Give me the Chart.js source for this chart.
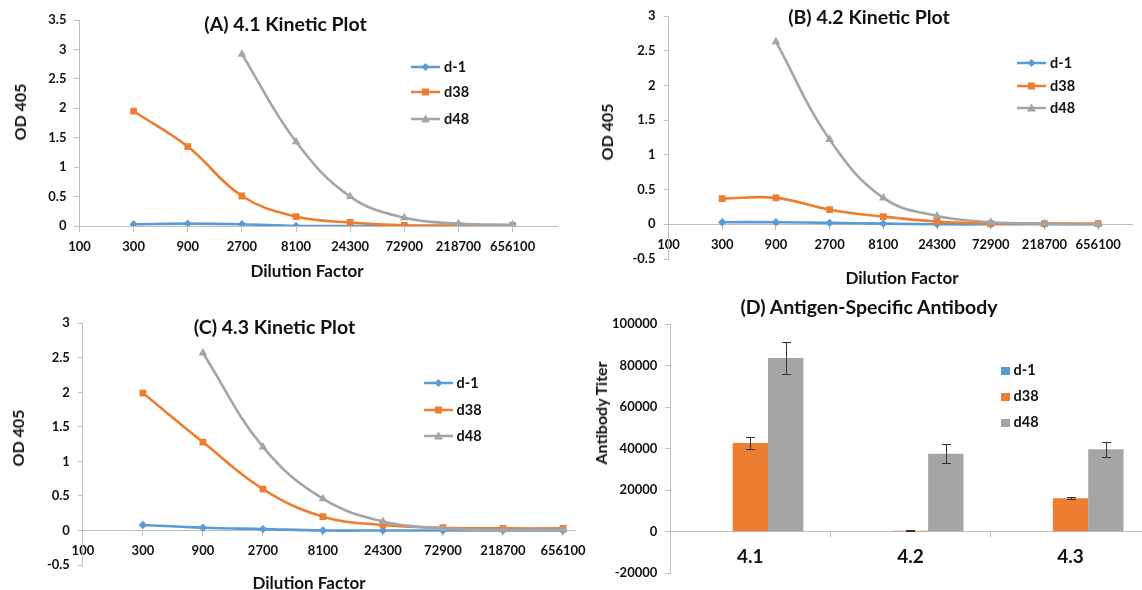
<!DOCTYPE html>
<html><head><meta charset="utf-8">
<script src="https://cdn.jsdelivr.net/npm/chart.js@4.4.1/dist/chart.umd.min.js"></script>
<style>
html,body{margin:0;padding:0;width:1142px;height:590px;overflow:hidden;background:#fff;}
#wrap{position:relative;width:1142px;height:590px;overflow:hidden;font-family:Lato,'Open Sans',sans-serif;color:#111;}
#wrap canvas{position:absolute;left:0;top:0;}
.t{position:absolute;white-space:nowrap;font-weight:700;transform:translate(-50%,-50%);line-height:1;}
.lg{position:absolute;display:flex;align-items:center;height:16px;font-weight:700;font-size:14.5px;white-space:nowrap;line-height:1;}
</style></head><body><div id="wrap"></div>
<script>
// ---------------- DATA ----------------
const dilutionLabels = ['100','300','900','2700','8100','24300','72900','218700','656100'];
const seriesNames = ['d-1','d38','d48'];
const odTicksA = [0,0.5,1,1.5,2,2.5,3,3.5];
const odTicksBC = [-0.5,0,0.5,1,1.5,2,2.5,3];

// (A) 4.1 kinetic plot (index = position in dilutionLabels)
const a_d1  = [null,0.03,0.04,0.03,0.00,0.00,0.00,0.00,0.00];
const a_d38 = [null,1.95,1.35,0.51,0.16,0.06,0.01,0.01,0.01];
const a_d48 = [null,null,null,2.92,1.43,0.50,0.14,0.04,0.02];
// (B) 4.2 kinetic plot
const b_d1  = [null,0.03,0.03,0.02,0.01,0.00,0.00,0.00,0.00];
const b_d38 = [null,0.37,0.38,0.21,0.11,0.04,0.01,0.01,0.01];
const b_d48 = [null,null,2.63,1.22,0.38,0.12,0.03,0.01,0.00];
// (C) 4.3 kinetic plot
const c_d1  = [null,0.08,0.04,0.02,0.00,0.00,0.00,0.00,0.00];
const c_d38 = [null,1.99,1.28,0.60,0.20,0.08,0.04,0.03,0.03];
const c_d48 = [null,null,2.57,1.21,0.46,0.13,0.03,0.01,0.01];

// (D) antigen-specific antibody titer
const antigenGroups = ['4.1','4.2','4.3'];
const titer_d1  = [0,0,0];
const titer_d38 = [42700,500,16100];
const titer_d48 = [83600,37600,39700];
const titerErr_d1  = [0,0,0];
const titerErr_d38 = [3000,250,500];
const titerErr_d48 = [7500,4700,3600];
const titerTicks = [-20000,0,20000,40000,60000,80000,100000];

// ---------------- STYLE ----------------
const seriesColors = ['#5B9BD5','#ED7D31','#A5A5A5'];
const pointStyles = ['rectRot','rect','triangle'];
const pointRadii = [4.2,4.8,5];
const axisColor = '#BFBFBF';
const textColor = '#111';
const FONT = 'Lato';
const CW = 1160, CH = 590;
const YW = 75; // reserved width of the value axis box
const wrap = document.getElementById('wrap');

function makeCtx(){
  const c = document.createElement('canvas');
  c.width = CW; c.height = CH; c.style.width = CW+'px'; c.style.height = CH+'px';
  wrap.appendChild(c);
  return c.getContext('2d');
}
function label(text,x,y,size,rot){
  const d = document.createElement('div');
  d.className='t'; d.textContent=text;
  d.style.left=x+'px'; d.style.top=y+'px'; d.style.fontSize=size+'px';
  if(rot) d.style.transform='translate(-50%,-50%) rotate(-90deg)';
  wrap.appendChild(d);
}
function markerSvg(k,w,kind){
  const c = seriesColors[k];
  let s = '<svg width="'+w+'" height="14" xmlns="http://www.w3.org/2000/svg">';
  if(kind==='line'){
    const m = w/2;
    s += '<line x1="0" y1="7" x2="'+w+'" y2="7" stroke="'+c+'" stroke-width="2.5"/>';
    if(k===0) s += '<polygon points="'+m+',3 '+(m+4)+',7 '+m+',11 '+(m-4)+',7" fill="'+c+'"/>';
    if(k===1) s += '<rect x="'+(m-3.5)+'" y="3.5" width="7" height="7" fill="'+c+'"/>';
    if(k===2) s += '<polygon points="'+m+',2.5 '+(m+4.5)+',10.5 '+(m-4.5)+',10.5" fill="'+c+'"/>';
  } else {
    s += '<rect x="0" y="3" width="'+w+'" height="8" fill="'+c+'"/>';
  }
  return s+'</svg>';
}
function legend(x0,x1,xt,rows,kind){
  rows.forEach((y,k)=>{
    const d = document.createElement('div');
    d.className='lg'; d.style.left=x0+'px'; d.style.top=(y-8)+'px';
    d.innerHTML = markerSvg(k,x1-x0,kind)+'<span style="margin-left:'+(xt-x1)+'px">'+seriesNames[k]+'</span>';
    wrap.appendChild(d);
  });
}
const tickFont = {family:FONT,size:13,weight:'bold'};

function lineChart(box,xMax,yTicks,series){
  const datasets = series.map((vals,k)=>({
    label: seriesNames[k],
    data: vals.map((v,i)=> v===null?null:{x:i,y:v}).filter(p=>p),
    borderColor: seriesColors[k], backgroundColor: seriesColors[k],
    pointStyle: pointStyles[k], pointRadius: pointRadii[k],
    pointBorderWidth: 0, pointBackgroundColor: seriesColors[k],
    borderWidth: 2.6, tension: 0.4, order: 3-k
  }));
  return new Chart(makeCtx(),{
    type:'line',
    data:{datasets},
    options:{
      responsive:false, animation:false, devicePixelRatio:1,
      layout:{autoPadding:false, padding:{left:box.l-YW, top:box.t, right:CW-box.r, bottom:CH-box.b}},
      plugins:{legend:{display:false}, title:{display:false}, tooltip:{enabled:false}},
      scales:{
        x:{type:'linear', min:0, max:xMax, position:{y:0},
          afterBuildTicks:s=>{ s.ticks = dilutionLabels.map((_,i)=>({value:i})); },
          ticks:{callback:v=>dilutionLabels[v] ?? '', font:tickFont, color:textColor, padding:8, maxRotation:0, autoSkip:false},
          grid:{display:true, drawOnChartArea:false, drawTicks:true, tickLength:5, color:axisColor},
          border:{display:true, color:axisColor, width:1}
        },
        y:{type:'linear', position:'left', min:yTicks[0], max:yTicks[yTicks.length-1],
          afterBuildTicks:s=>{ s.ticks = yTicks.map(v=>({value:v})); },
          afterFit:s=>{ s.width = YW; },
          ticks:{callback:v=>String(v), font:tickFont, color:textColor, padding:8},
          grid:{display:true, drawOnChartArea:false, drawTicks:true, tickLength:5, color:axisColor},
          border:{display:true, color:axisColor, width:1}
        }
      }
    }
  });
}

// Panel A
lineChart({l:79.5,r:557.5,t:20,b:226}, 8.83, odTicksA, [a_d1,a_d38,a_d48]);
label('(A) 4.1 Kinetic Plot',285.5,24,19.5);
label('OD 405',20,112,16,true);
label('Dilution Factor',307,270,17);
legend(411,440,444,[67,92,119],'line');

// Panel B
lineChart({l:668.5,r:1132,t:16,b:259}, 8.63, odTicksBC, [b_d1,b_d38,b_d48]);
label('(B) 4.2 Kinetic Plot',869,17,19.5);
label('OD 405',606.5,132,16,true);
label('Dilution Factor',902,277,17);
legend(1017,1046,1050,[63,86,108],'line');

// Panel C
lineChart({l:82.9,r:575,t:323.3,b:565}, 8.2, odTicksBC, [c_d1,c_d38,c_d48]);
label('(C) 4.3 Kinetic Plot',274.5,326.7,19.5);
label('OD 405',18,438,16,true);
label('Dilution Factor',309,581.7,17);
legend(424,453,456.5,[383.3,410,436],'line');

// Panel D
const errorBarPlugin = {
  id:'errbars',
  afterDatasetsDraw(chart){
    const ctx = chart.ctx, ys = chart.scales.y;
    chart.data.datasets.forEach((ds,di)=>{
      if(!ds.errors) return;
      const meta = chart.getDatasetMeta(di);
      meta.data.forEach((bar,i)=>{
        const e = ds.errors[i]; if(!e) return;
        const v = ds.data[i];
        const top = Math.round(ys.getPixelForValue(v+e))+0.5, bot = Math.round(ys.getPixelForValue(v-e))+0.5;
        const x = Math.round(bar.x)+0.5;
        ctx.save(); ctx.strokeStyle='#333'; ctx.lineWidth=1; ctx.beginPath();
        ctx.moveTo(x,top); ctx.lineTo(x,bot);
        ctx.moveTo(x-4.5,top); ctx.lineTo(x+4.5,top);
        ctx.moveTo(x-4.5,bot); ctx.lineTo(x+4.5,bot);
        ctx.stroke(); ctx.restore();
      });
    });
  }
};
const boxD = {l:670.3,r:1150.6,t:324,b:573.3};
new Chart(makeCtx(),{
  type:'bar',
  data:{labels:antigenGroups, datasets:[titer_d1,titer_d38,titer_d48].map((vals,k)=>({
    label:seriesNames[k], data:vals, errors:[titerErr_d1,titerErr_d38,titerErr_d48][k],
    backgroundColor:seriesColors[k], borderWidth:0,
    categoryPercentage:0.6625, barPercentage:1
  }))},
  options:{
    responsive:false, animation:false, devicePixelRatio:1,
    layout:{autoPadding:false, padding:{left:boxD.l-YW, top:boxD.t, right:CW-boxD.r, bottom:CH-boxD.b}},
    plugins:{legend:{display:false}, title:{display:false}, tooltip:{enabled:false}},
    scales:{
      x:{type:'category', position:{y:0}, offset:true,
        ticks:{font:{family:FONT,size:19,weight:'bold'}, color:textColor, padding:9, maxRotation:0},
        grid:{display:true, offset:true, drawOnChartArea:false, drawTicks:true, tickLength:5, color:axisColor},
        border:{display:true, color:axisColor, width:1}
      },
      y:{type:'linear', position:'left', min:titerTicks[0], max:titerTicks[titerTicks.length-1],
        afterBuildTicks:s=>{ s.ticks = titerTicks.map(v=>({value:v})); },
        afterFit:s=>{ s.width = YW; },
        ticks:{callback:v=>String(v), font:tickFont, color:textColor, padding:8},
        grid:{display:true, drawOnChartArea:false, drawTicks:true, tickLength:5, color:axisColor},
        border:{display:true, color:axisColor, width:1}
      }
    }
  },
  plugins:[errorBarPlugin]
});
label('(D) Antigen-Specific Antibody',869,306.7,19.5);
label('Antibody Titer',601,413.3,16,true);
legend(1001,1010,1013.5,[370.7,396.7,422.7],'square');
</script></body></html>
